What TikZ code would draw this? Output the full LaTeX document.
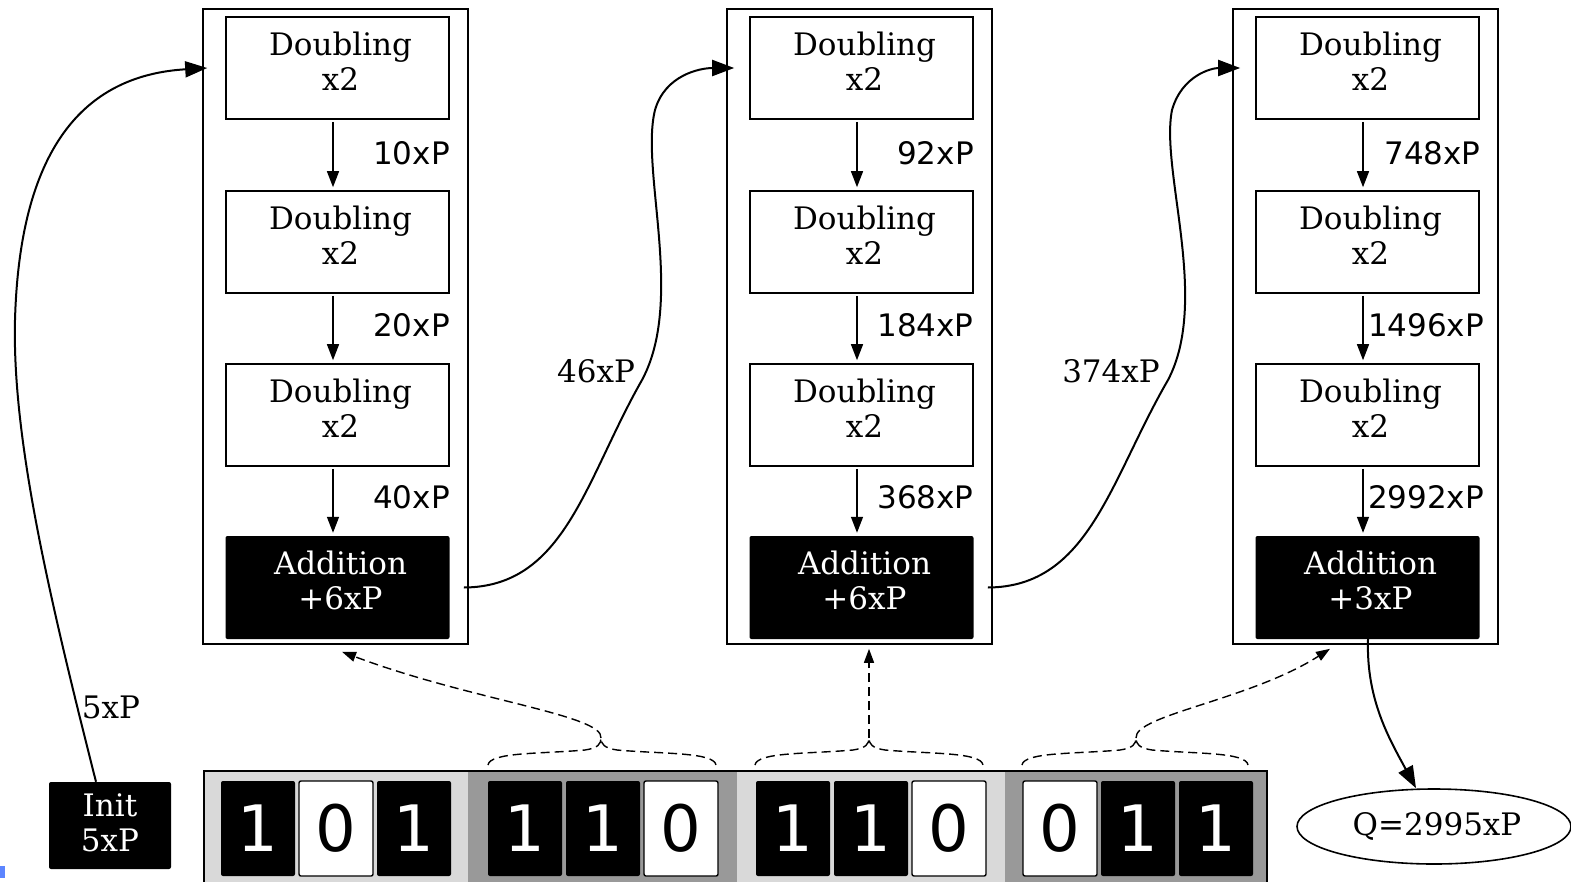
\documentclass[tikz,border=0pt]{standalone}
\usepackage{fontspec}
\newfontfamily\dvserif{DejaVu Serif}
\newfontfamily\dvsans{DejaVu Sans}
\usetikzlibrary{arrows.meta,shapes.geometric}
\definecolor{bandlight}{HTML}{D9D9D9}
\definecolor{banddark}{HTML}{999999}
\definecolor{marker}{HTML}{5C85FF}
% two centred lines, nudged a little to the right inside their box
\newcommand{\twolines}[2]{\hspace*{6pt}#1\\\hspace*{6pt}#2}
\tikzset{
  serif31/.style={font=\dvserif\fontsize{31}{35}\selectfont},
  sans31/.style={font=\dvsans\fontsize{31}{35}\selectfont},
  cluster/.style={draw, line width=1.6pt, fill=white, minimum width=265pt,
    minimum height=635pt, inner sep=0pt},
  dblbox/.style={serif31, draw, line width=1.6pt, minimum width=223pt,
    minimum height=102pt, inner sep=0pt, align=center, text depth=14pt},
  addbox/.style={serif31, fill=black, text=white, rounded corners=2pt,
    minimum width=224pt, minimum height=103pt, inner sep=0pt, align=center,
    text depth=14pt},
  initbox/.style={serif31, fill=black, text=white, rounded corners=2pt,
    minimum width=122pt, minimum height=87pt, inner sep=0pt, align=center,
    text depth=5pt},
  result/.style={serif31, draw, ellipse, line width=1.6pt, minimum width=274pt,
    minimum height=75pt, inner sep=0pt},
  steplbl/.style={sans31, inner sep=0pt},
  linklbl/.style={serif31, inner sep=0pt},
  flow/.style={line width=1.4pt, -{Triangle[length=16pt,width=12pt]}},
  link/.style={line width=2pt, -{Triangle[length=22pt,width=16pt]}},
  brace/.style={line width=1.4pt, dash pattern=on 9pt off 5pt},
  select/.style={brace, -{Triangle[length=14pt,width=10pt]}},
  bitone/.style={fill=black, text=white, rounded corners=2pt, minimum width=74pt,
    minimum height=95pt, inner sep=0pt, font=\dvsans\fontsize{64}{64}\selectfont},
  bitzero/.style={bitone, fill=white, text=black, draw, line width=1.4pt},
}
\begin{document}
\begin{tikzpicture}[x=1pt, y=-1pt]
\useasboundingbox (0,0) rectangle (1571,881);
\clip (0,0) rectangle (1571,881);

% corner marker
\fill[marker] (0,866) rectangle (5,878);

% ---- three processing columns ----
\node[cluster] (cont1) at (335.5,326.5) {};
\node[cluster] (cont2) at (859.5,326.5) {};
\node[cluster] (cont3) at (1365.5,326.5) {};

\foreach \c/\x in {1/337.5, 2/861.5, 3/1367.5} {
  \node[dblbox] (d\c1) at (\x,68)  {\twolines{Doubling}{x2}};
  \node[dblbox] (d\c2) at (\x,242) {\twolines{Doubling}{x2}};
  \node[dblbox] (d\c3) at (\x,415) {\twolines{Doubling}{x2}};
}
\node[addbox] (a1) at (337.5,587.5)  {\twolines{Addition}{+6xP}};
\node[addbox] (a2) at (861.5,587.5)  {\twolines{Addition}{+6xP}};
\node[addbox] (a3) at (1367.5,587.5) {\twolines{Addition}{+3xP}};

% doubling chains
\foreach \c in {1,2,3} {
  \draw[flow] ([xshift=-4.5pt,yshift=-2pt]d\c1.south) -- ([xshift=-4.5pt,yshift=3pt]d\c2.north);
  \draw[flow] ([xshift=-4.5pt,yshift=-2pt]d\c2.south) -- ([xshift=-4.5pt,yshift=3pt]d\c3.north);
  \draw[flow] ([xshift=-4.5pt,yshift=-2pt]d\c3.south) -- ([xshift=-4.5pt,yshift=3pt]a\c.north);
}
\node[steplbl] (l11) at (411.5,153) {10xP};
\node[steplbl] (l12) at (411.5,325) {20xP};
\node[steplbl] (l13) at (411.5,497) {40xP};
\node[steplbl] (l21) at (935.5,153) {92xP};
\node[steplbl] (l22) at (925.5,325) {184xP};
\node[steplbl] (l23) at (925.5,497) {368xP};
\node[steplbl] (l31) at (1432.5,153) {748xP};
\node[steplbl] (l32) at (1426,325) {1496xP};
\node[steplbl] (l33) at (1426,497) {2992xP};

% ---- start and result ----
\node[initbox] (init) at (110,825.5) {Init\\5xP};
\node[result] (q) at (1434,826.5) {\hspace*{6pt}Q=2995xP};

\coordinate (in1) at ([xshift=5pt]cont1.west |- d11.center);
\coordinate (in2) at ([xshift=8pt]cont2.west |- d21.center);
\coordinate (in3) at ([xshift=8pt]cont3.west |- d31.center);
\coordinate (out1) at ([xshift=-5pt]cont1.east |- a1.center);
\coordinate (out2) at ([xshift=-5pt]cont2.east |- a2.center);

\draw[link] ([xshift=-14pt]init.north) .. controls (50,600) and (12,440) .. (15,320)
  .. controls (20,140) and (90,75) .. (in1);
\node[linklbl] (l0) at (111,707) {5xP};

\draw[link] (out1) .. controls (565,587) and (585,480) .. (642,380)
  .. controls (685,300) and (640,170) .. (655,110)
  .. controls (665,75) and (700,68) .. (in2);
\node[linklbl] (lk1) at (596,371) {46xP};

\draw[link] (out2) .. controls (1089,587) and (1110,480) .. (1168,380)
  .. controls (1210,300) and (1160,170) .. (1172,110)
  .. controls (1182,75) and (1212,68) .. (in3);
\node[linklbl] (lk2) at (1111,371) {374xP};

\draw[link] ([xshift=0.5pt]a3.south) .. controls (1366,700) and (1390,740) .. ([xshift=-18pt]q.north);

% ---- scalar bits ----
\fill[bandlight] (204,771) rectangle (468,900);
\fill[banddark]  (468,771) rectangle (737,900);
\fill[bandlight] (737,771) rectangle (1005,900);
\fill[banddark]  (1005,771) rectangle (1267,900);
\draw[line width=1.6pt] (204,900) -- (204,771) -- (1267,771) -- (1267,900);

\foreach \n/\x/\b in {1/258/1, 2/336/0, 3/414/1,
                      4/525/1, 5/603/1, 6/681/0,
                      7/793/1, 8/871/1, 9/949/0,
                      10/1060/0, 11/1138/1, 12/1216/1} {
  \ifnum\b=1
    \node[bitone] (b\n) at (\x,828.5) {1};
  \else
    \node[bitzero] (b\n) at (\x,828.5) {0};
  \fi
}

% window braces and their selections
\coordinate (t2) at (601,738);
\coordinate (t3) at (869,738);
\coordinate (t4) at (1136,738);
\draw[brace] (488,765) .. controls (490,752) and (540,754) .. (585,750)
  .. controls (598,748) and (601,744) .. (t2)
  .. controls (601,744) and (604,748) .. (617,750)
  .. controls (662,754) and (714,752) .. (716,765);
\draw[brace] (755,765) .. controls (757,752) and (808,754) .. (853,750)
  .. controls (866,748) and (869,744) .. (t3)
  .. controls (869,744) and (872,748) .. (885,750)
  .. controls (930,754) and (981,752) .. (983,765);
\draw[brace] (1022,765) .. controls (1024,752) and (1075,754) .. (1120,750)
  .. controls (1133,748) and (1136,744) .. (t4)
  .. controls (1136,744) and (1139,748) .. (1152,750)
  .. controls (1197,754) and (1246,752) .. (1248,765);

\draw[select] (t2) .. controls (604,715) and (470,700) .. ([xshift=6.5pt,yshift=-7pt]cont1.south);
\draw[select] (t3) -- ([xshift=9.5pt,yshift=-4pt]cont2.south);
\draw[select] (t4) .. controls (1134,715) and (1250,700) .. ([xshift=-35.5pt,yshift=-4pt]cont3.south);
\end{tikzpicture}
\end{document}
